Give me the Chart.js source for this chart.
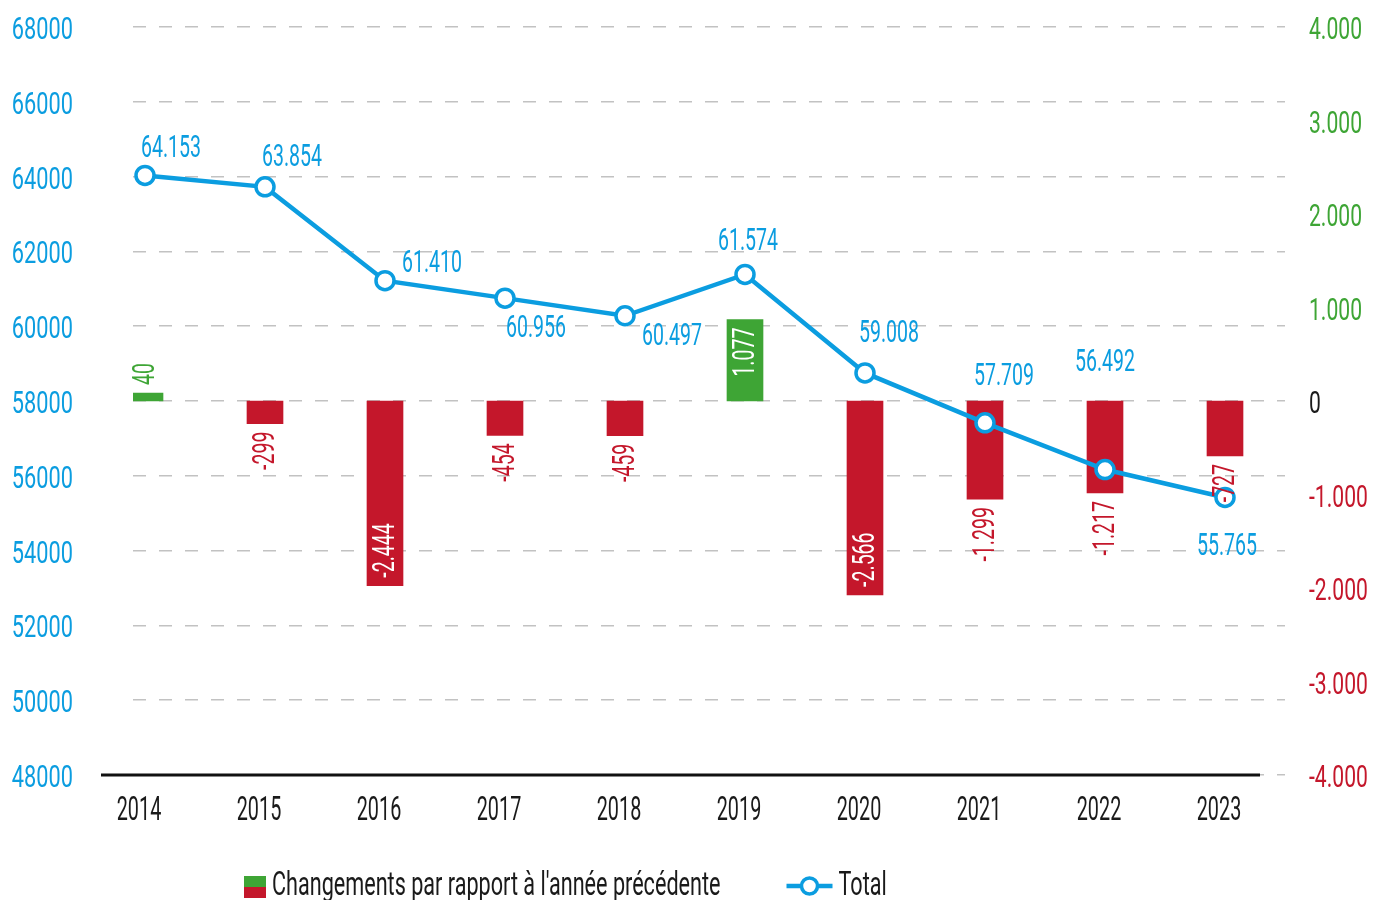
<!DOCTYPE html>
<html>
<head>
<meta charset="utf-8">
<script src="https://cdn.jsdelivr.net/npm/chart.js@4.4.1/dist/chart.umd.min.js"></script>
<style>
  html, body { margin: 0; padding: 0; background: #fff; overflow: hidden; }
  #wrap { position: relative; width: 1373px; height: 900px; }
</style>
</head>
<body>
<div id="wrap"><canvas id="chart"></canvas></div>
<script>
const years = [2014, 2015, 2016, 2017, 2018, 2019, 2020, 2021, 2022, 2023];
const totals = [64153, 63854, 61410, 60956, 60497, 61574, 59008, 57709, 56492, 55765];
const changes = [40, -299, -2444, -454, -459, 1077, -2566, -1299, -1217, -727];
const leftTicks = [48000, 50000, 52000, 54000, 56000, 58000, 60000, 62000, 64000, 66000, 68000];
const rightTicks = [-4000, -3000, -2000, -1000, 0, 1000, 2000, 3000, 4000];
const legendLabels = ["Changements par rapport à l'année précédente", 'Total'];

// label placement (style only)
const totalLabelOffsets = [[26, -28], [27, -31], [47, -18], [31, 29], [47, 19], [3, -34], [24, -41], [19, -48], [0, -108], [2, 48]];
const changeLabelInside = [false, false, true, false, false, true, true, false, false, false];

const FONT = "Roboto, 'DejaVu Sans', sans-serif";
const SX = 0.63; // horizontal squeeze to mimic the condensed typeface
const BLUE = '#0b9de0', GREEN = '#3ea535', RED = '#c4172b', INK = '#1a1a1a';

function fmt(v) {
  const s = Math.abs(v).toString().replace(/\B(?=(\d{3})+(?!\d))/g, '.');
  return (v < 0 ? '-' : '') + s;
}

function drawText(ctx, str, x, y, o) {
  ctx.save();
  ctx.translate(x, y);
  if (o.rot) ctx.rotate(o.rot);
  ctx.scale(o.sx || SX, 1);
  ctx.font = o.size + 'px ' + FONT;
  ctx.fillStyle = o.color;
  ctx.textAlign = o.align || 'center';
  ctx.textBaseline = 'middle';
  ctx.fillText(str, 0, 0);
  ctx.restore();
}

function textWidth(ctx, str, size, sx) {
  ctx.save();
  ctx.font = size + 'px ' + FONT;
  const w = ctx.measureText(str).width * (sx || SX);
  ctx.restore();
  return w;
}

const axisText = {
  id: 'axisText',
  beforeDatasetsDraw(chart) {
    const { ctx, chartArea, scales } = chart;
    // x axis line
    ctx.save();
    ctx.strokeStyle = '#111';
    ctx.lineWidth = 3;
    ctx.beginPath();
    ctx.moveTo(chartArea.left - 32, chartArea.bottom);
    ctx.lineTo(chartArea.right - 25, chartArea.bottom);
    ctx.stroke();
    ctx.restore();

    leftTicks.forEach(v => {
      drawText(ctx, String(v), chartArea.left - 60, scales.y.getPixelForValue(v) + 4,
        { size: 32, color: BLUE, align: 'right', sx: 0.68 });
    });
    rightTicks.forEach(v => {
      const c = v > 0 ? GREEN : (v < 0 ? RED : INK);
      drawText(ctx, fmt(v), chartArea.right + 24, scales.y2.getPixelForValue(v) + 4,
        { size: 32, color: c, align: 'left', sx: 0.66 });
    });
    years.forEach(y => {
      drawText(ctx, String(y), scales.x.getPixelForValue(y) - 6, chartArea.bottom + 37,
        { size: 33, color: INK, sx: 0.6 });
    });
  },
  afterDraw(chart) {
    const { ctx } = chart;
    const cy = 887;
    let x = 244;
    ctx.save();
    ctx.fillStyle = GREEN;
    ctx.fillRect(x, cy - 11, 22, 11);
    ctx.fillStyle = RED;
    ctx.fillRect(x, cy, 22, 11);
    ctx.restore();
    x += 28;
    drawText(ctx, legendLabels[0], x, cy, { size: 33, color: INK, align: 'left', sx: 0.655 });
    x += textWidth(ctx, legendLabels[0], 33, 0.655) + 66;
    ctx.save();
    ctx.strokeStyle = BLUE;
    ctx.lineWidth = 4.5;
    ctx.beginPath();
    ctx.moveTo(x, cy - 1);
    ctx.lineTo(x + 46, cy - 1);
    ctx.stroke();
    ctx.beginPath();
    ctx.arc(x + 23, cy - 1, 8, 0, Math.PI * 2);
    ctx.fillStyle = '#fff';
    ctx.fill();
    ctx.lineWidth = 3.5;
    ctx.stroke();
    ctx.restore();
    drawText(ctx, legendLabels[1], x + 52, cy, { size: 33, color: INK, align: 'left', sx: 0.655 });
  }
};

const valueLabels = {
  id: 'valueLabels',
  afterDatasetsDraw(chart) {
    const ctx = chart.ctx;
    chart.getDatasetMeta(0).data.forEach((bar, i) => {
      const v = changes[i];
      const text = fmt(v);
      const w = textWidth(ctx, text, 31);
      const dir = v < 0 ? 1 : -1;
      let cy, color;
      if (changeLabelInside[i]) {
        cy = bar.y - dir * (w / 2 + 8);
        color = '#fff';
      } else {
        cy = bar.y + dir * (w / 2 + 8);
        color = v < 0 ? RED : GREEN;
      }
      drawText(ctx, text, bar.x + 1, cy, { size: 31, color: color, rot: -Math.PI / 2 });
    });
    chart.getDatasetMeta(1).data.forEach((pt, i) => {
      const [dx, dy] = totalLabelOffsets[i];
      drawText(ctx, fmt(totals[i]), pt.x + dx, pt.y + dy + 2, { size: 31, color: BLUE });
    });
  }
};

new Chart(document.getElementById('chart'), {
  data: {
    datasets: [
      {
        type: 'bar',
        label: legendLabels[0],
        data: years.map((y, i) => ({ x: y, y: changes[i] })),
        yAxisID: 'yBar',
        backgroundColor: changes.map(v => v < 0 ? RED : GREEN),
        barThickness: 36,
        minBarLength: 8,
        order: 2
      },
      {
        type: 'line',
        label: legendLabels[1],
        data: years.map((y, i) => ({ x: y, y: totals[i] })),
        yAxisID: 'yLine',
        borderColor: BLUE,
        borderWidth: 4.5,
        pointRadius: 9,
        pointBorderWidth: 3.5,
        pointBackgroundColor: '#fff',
        pointBorderColor: BLUE,
        tension: 0,
        order: 1
      }
    ]
  },
  options: {
    responsive: true,
    maintainAspectRatio: false,
    animation: false,
    layout: { padding: { left: 133, right: 88, top: 27, bottom: 125 } },
    plugins: { legend: { display: false }, tooltip: { enabled: false } },
    scales: {
      x: { type: 'linear', display: false, offset: false, min: 2013.9, max: 2023.5 },
      y: {
        position: 'left',
        min: 48000,
        max: 68000,
        ticks: { display: false, stepSize: 2000 },
        grid: { color: '#c2c2c2', lineWidth: 1.5, drawTicks: false },
        border: { display: false, dash: [13, 13] }
      },
      y2: { position: 'right', display: false, min: -4000, max: 4000 },
      yBar: { display: false, min: -4950, max: 4950 },
      yLine: { display: false, min: 48536, max: 68018 }
    }
  },
  plugins: [axisText, valueLabels]
});
</script>
</body>
</html>
